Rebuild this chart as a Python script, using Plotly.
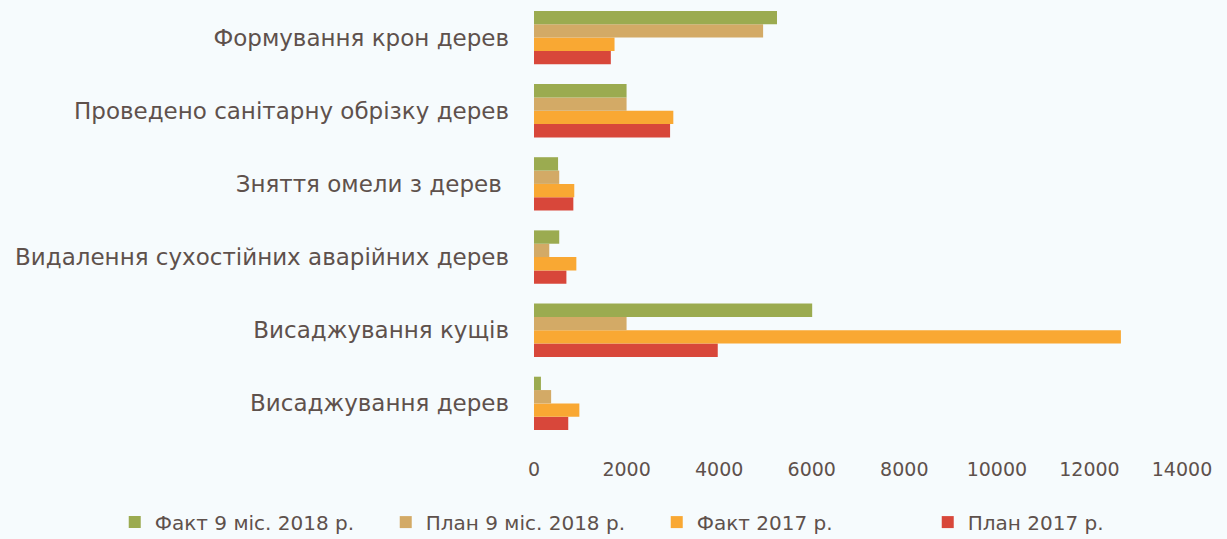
import plotly.graph_objects as go

categories = [
    "Висаджування дерев",
    "Висаджування кущів",
    "Видалення сухостійних аварійних дерев",
    "Зняття омели з дерев ",
    "Проведено санітарну обрізку дерев",
    "Формування крон дерев",
]
plan_2017 = [740, 3970, 700, 850, 2940, 1660]
fact_2017 = [980, 12680, 915, 870, 3010, 1740]
plan_9m_2018 = [370, 2000, 330, 545, 2000, 4950]
fact_9m_2018 = [150, 6010, 545, 520, 2000, 5250]

series = [
    ("План 2017 р.", plan_2017, "#d8473a"),
    ("Факт 2017 р.", fact_2017, "#f9a833"),
    ("План 9 міс. 2018 р.", plan_9m_2018, "#d3aa66"),
    ("Факт 9 міс. 2018 р.", fact_9m_2018, "#9bab50"),
]

font_family = "'DejaVu Sans', sans-serif"
text_color = "#5e514c"

fig = go.Figure()
for name, vals, color in series:
    fig.add_trace(go.Bar(
        y=categories, x=vals, name=name, orientation="h",
        marker=dict(color=color, line=dict(width=0)),
    ))

fig.update_layout(
    width=1227, height=539,
    barmode="group", bargap=0.27, bargroupgap=0.0,
    paper_bgcolor="#f6fbfd", plot_bgcolor="#f6fbfd",
    margin=dict(l=534, r=45, t=1, b=99, autoexpand=False),
    font=dict(family=font_family, color=text_color, size=18),
    showlegend=True,
    legend=dict(
        orientation="h",
        x=-0.647, xanchor="left", y=-0.187, yanchor="middle",
        traceorder="reversed", font=dict(size=20, color=text_color),
        itemwidth=30, entrywidth=226, bgcolor="rgba(0,0,0,0)",
    ),
    xaxis=dict(
        range=[0, 14000], tickvals=[0, 2000, 4000, 6000, 8000, 10000, 12000, 14000],
        tickformat="d", showgrid=False, zeroline=False, showline=False,
        tickfont=dict(size=19, color=text_color), ticks="", ticklabelstandoff=16,
    ),
    yaxis=dict(
        showgrid=False, zeroline=False, showline=False, ticks="",
        tickfont=dict(size=23, color=text_color), ticklabelstandoff=24,
    ),
)

fig.write_html("out.html")
